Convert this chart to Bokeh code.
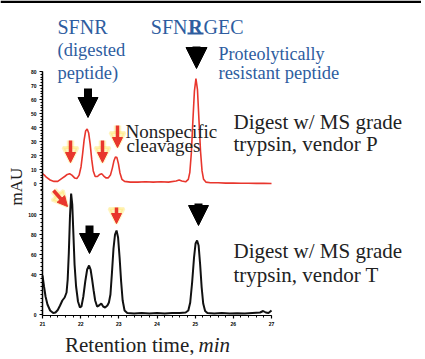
from math import pi
from bokeh.plotting import figure
from bokeh.models import (Range1d, LinearAxis, Label, Arrow, NormalHead, FixedTicker,
                          BoxAnnotation)
from bokeh.embed import file_html
from bokeh.resources import INLINE

# ---------------- data ----------------
time_p = [21.00, 21.05, 21.10, 21.20, 21.30, 21.40, 21.50, 21.58, 21.65, 21.71,
          21.77, 21.84, 21.90, 21.96, 22.01, 22.05, 22.09, 22.13, 22.17, 22.21,
          22.25, 22.29, 22.33, 22.38, 22.44, 22.50, 22.55, 22.60, 22.66, 22.72,
          22.78, 22.83, 22.87, 22.91, 22.95, 22.99, 23.03, 23.08, 23.15, 23.30,
          23.50, 23.70, 23.90, 24.10, 24.30, 24.50, 24.58, 24.65, 24.75, 24.82,
          24.86, 24.90, 24.94, 24.98, 25.02, 25.06, 25.10, 25.14, 25.18, 25.22,
          25.28, 25.40, 25.60, 25.80, 26.00, 26.20, 26.40, 26.60, 26.80, 27.00]
mau_p = [7, 6, 4.5, 2.5, 1.5, 1.5, 3.5, 5, 6.5, 7,
         6, 4, 3.5, 6, 12, 21, 31, 37.5, 39, 36,
         28, 17, 9, 5, 5, 6.5, 7, 5.5, 4, 4,
         6, 11, 16, 19, 18.5, 14, 7.5, 3, 1.5, 1,
         1, 1.2, 1, 1.3, 1, 1.8, 2.5, 1.8, 1.2, 3,
         8, 22, 45, 66, 75, 67, 45, 23, 9, 3,
         1, 0.5, 0.5, 0.3, 0.3, 0.2, 0.2, 0.1, 0.1, 0]

time_t = [21.00, 21.04, 21.08, 21.13, 21.20, 21.28, 21.34, 21.40, 21.46, 21.52,
          21.58, 21.63, 21.66, 21.69, 21.72, 21.75, 21.78, 21.81, 21.84, 21.88,
          21.93, 21.98, 22.02, 22.07, 22.12, 22.17, 22.22, 22.26, 22.30, 22.34,
          22.38, 22.43, 22.48, 22.54, 22.59, 22.64, 22.70, 22.74, 22.78, 22.82,
          22.86, 22.90, 22.94, 22.98, 23.02, 23.06, 23.10, 23.15, 23.22, 23.40,
          23.60, 23.80, 24.00, 24.20, 24.40, 24.60, 24.75, 24.82, 24.87, 24.92,
          24.97, 25.01, 25.05, 25.09, 25.13, 25.17, 25.21, 25.26, 25.32, 25.50,
          25.70, 25.90, 26.10, 26.30, 26.50, 26.70, 26.78, 26.85, 26.92, 27.00]
mau_t = [39, 28, 18, 10, 4, 1.5, 2, 4.5, 9, 14,
         17, 22, 35, 62, 98, 121, 110, 80, 50, 28,
         13, 7, 8, 18, 33, 45, 49, 45, 35, 24,
         14, 8, 9, 11, 8, 7, 9, 12, 20, 42,
         66, 80, 84, 77, 57, 33, 14, 4, 1.5, 1,
         1.5, 1, 1.5, 1, 1.5, 1.5, 2, 4, 12, 32,
         57, 71, 74, 69, 50, 27, 11, 3.5, 1.5, 1,
         1.5, 1, 1.2, 1, 1.5, 2, 3.5, 2, 1.5, 4]

x_ticks = [21, 22, 23, 24, 25, 26, 27]
y_ticks_p = [0, 10, 20, 30, 40, 50, 60, 70, 80]
y_ticks_t = [0, 40, 60, 80, 100]

# ---------------- layout ----------------
W, H = 421, 355
PXMIN = 38.17           # pixels per minute
AXX = 42                # pixel x of t = 21
ZT = 314                # pixel y of lower trace zero (1 px per mAU)
ZP, SP = 183, 1.4       # pixel y of upper trace zero, px per mAU
TDY = -4                # baseline correction for labels

BLUE = "#2e5d9f"
RED = "#e8362d"
INK = "#222222"
FONT = "Liberation Serif"

p = figure(width=W, height=H, output_backend="svg", toolbar_location=None,
           x_axis_location=None, y_axis_location=None,
           x_range=Range1d(21 - AXX / PXMIN, 21 + (W - AXX) / PXMIN),
           y_range=Range1d(-(H - ZT), ZT))
p.min_border = 0
p.min_border_left = p.min_border_right = p.min_border_top = p.min_border_bottom = 0
p.outline_line_color = None
p.grid.visible = False
p.background_fill_color = "white"
p.border_fill_color = "white"
p.extra_y_ranges = {"red": Range1d(-(H - ZP) / SP, ZP / SP)}


def style_axis(ax, lw=1.5):
    ax.axis_line_width = lw
    ax.axis_line_color = "black"
    ax.major_tick_out = 3
    ax.major_tick_in = 0
    ax.minor_tick_out = 2
    ax.minor_tick_in = 0
    ax.major_tick_line_width = 1.2
    ax.major_label_text_font_size = "5px"
    ax.major_label_text_font_style = "bold"
    ax.major_label_text_color = "black"
    ax.major_label_standoff = 3


ax_t = LinearAxis(fixed_location=21, bounds=(-1, 124),
                  ticker=FixedTicker(ticks=y_ticks_t, minor_ticks=list(range(0, 125, 4))))
style_axis(ax_t)
p.add_layout(ax_t, "left")

ax_p = LinearAxis(y_range_name="red", fixed_location=21, bounds=(-5, 80),
                  ticker=FixedTicker(ticks=y_ticks_p, minor_ticks=list(range(-4, 81, 2))))
style_axis(ax_p)
p.add_layout(ax_p, "left")

ax_x = LinearAxis(fixed_location=-1, bounds=(21, 27),
                  ticker=FixedTicker(ticks=x_ticks,
                                     minor_ticks=[21 + i * 0.2 for i in range(31)]))
style_axis(ax_x, lw=1.2)
p.add_layout(ax_x, "below")

# traces
p.line(time_p, mau_p, y_range_name="red", line_color=RED, line_width=1.6)
p.line(time_t, mau_t, line_color="#111111", line_width=2)


# ---------------- annotations ----------------
def D(px, py):
    """reference pixel -> data units (minutes, lower-trace mAU)"""
    return 21 + (px - AXX) / PXMIN, ZT - py


# black rule along the top edge of the panel
bx0, by0 = D(0, 0)
bx1, by1 = D(W, 2.5)
p.add_layout(BoxAnnotation(left=bx0, right=bx1, top=by0, bottom=by1,
                           fill_color="black", fill_alpha=1, line_color=None,
                           level="overlay"))


def text(t, px, py, size, color=INK, style="normal", angle=0,
         align="left", baseline="alphabetic", dy=TDY):
    x, y = D(px, py + dy)
    p.add_layout(Label(x=x, y=y, text=t,
                       text_font=FONT, text_font_size=f"{size}px",
                       text_color=color, text_font_style=style, angle=angle,
                       text_align=align, text_baseline=baseline))


text("SFNR", 57, 30, 20, BLUE)
text("(digested", 57, 53, 18.5, BLUE)
text("peptide)", 57, 76, 18.5, BLUE)
text("SFN", 187, 30, 20, BLUE, align="right")
text("R", 195, 30, 20, BLUE, style="bold", align="center")
text("GEC", 203, 30, 20, BLUE)
text("Proteolytically", 218, 57, 18, BLUE)
text("resistant peptide", 218, 76, 18.5, BLUE)
text("Nonspecific", 125, 135, 19)
text("cleavages", 126, 149, 19)
text("Digest w/ MS grade", 233, 125, 21)
text("trypsin, vendor P", 233, 147, 21)
text("Digest w/ MS grade", 233, 254, 21)
text("trypsin, vendor T", 233, 278, 21)
text("Retention time,", 194, 348, 21, align="right")
text("min", 198, 348, 21, style="italic")
text("mAU", 16, 186, 17, angle=pi / 2, align="center", baseline="middle", dy=0)

# underline of bold R
ux0, uy = D(187, 33)
ux1, _ = D(203, 33)
p.add_layout(Arrow(x_start=ux0, y_start=uy, x_end=ux1, y_end=uy,
                   start=None, end=None, line_color=BLUE, line_width=2.2))


def arrow(px0, py0, px1, py1, color, lw, head, glow=False):
    x0, y0 = D(px0, py0)
    x1, y1 = D(px1, py1)
    if glow:
        p.add_layout(Arrow(x_start=x0, y_start=y0, x_end=x1, y_end=y1,
                           line_color="#ffe04a", line_width=lw + 4, line_alpha=0.35,
                           end=NormalHead(size=head + 5, fill_color="#ffe04a",
                                          fill_alpha=0.35, line_color="#ffe04a",
                                          line_alpha=0.35, line_width=3)))
    p.add_layout(Arrow(x_start=x0, y_start=y0, x_end=x1, y_end=y1,
                       line_color=color, line_width=lw,
                       end=NormalHead(size=head, fill_color=color,
                                      line_color=color, line_width=1)))


# black block arrows
arrow(87.5, 88, 87.5, 117, "black", 8, 20)
arrow(196, 46, 196, 68, "black", 8, 21)
arrow(89, 225, 89, 253, "black", 8, 20)
arrow(198, 203, 198, 225, "black", 8, 20)

# red arrows (nonspecific cleavages)
arrow(70, 140, 70, 162, RED, 3.5, 10, glow=True)
arrow(102, 140, 102, 162, RED, 3.5, 10, glow=True)
arrow(117, 125, 117, 147, RED, 3.5, 10, glow=True)
arrow(53, 190, 67, 206, RED, 3.5, 10, glow=True)
arrow(116, 207, 116, 223, RED, 3.5, 10, glow=True)

open("out.html", "w").write(file_html(p, INLINE))
